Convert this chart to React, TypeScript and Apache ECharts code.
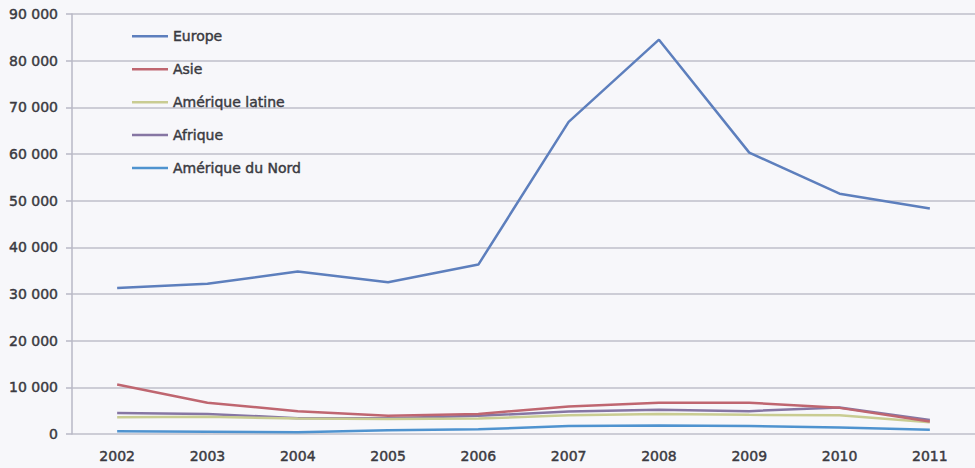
import React, { useEffect, useRef } from "react";
import * as echarts from "echarts";

// Flux annuels par région d'origine, 2002–2011
const years = ["2002", "2003", "2004", "2005", "2006", "2007", "2008", "2009", "2010", "2011"];
const europe = [31300, 32200, 34800, 32500, 36300, 66900, 84500, 60300, 51500, 48300];
const asie = [10600, 6700, 4900, 3900, 4300, 5900, 6700, 6700, 5600, 2700];
const ameriqueLatine = [3600, 3700, 3300, 3200, 3300, 4000, 4300, 4100, 4000, 2500];
const afrique = [4500, 4300, 3400, 3400, 3900, 4800, 5200, 4900, 5700, 3000];
const ameriqueNord = [600, 500, 400, 800, 1000, 1700, 1800, 1700, 1400, 900];

const seriesNames = ["Europe", "Asie", "Amérique latine", "Afrique", "Amérique du Nord"];
const seriesData = [europe, asie, ameriqueLatine, afrique, ameriqueNord];
const seriesColors = ["#5d7fbd", "#bf6670", "#c9cc92", "#8676a3", "#4f93cf"];

const FONT = "'DejaVu Sans', sans-serif";
const TEXT_COLOR = "#3a3a41";

// slightly heavier glyphs than the plain book weight
const textWeight = { textBorderColor: TEXT_COLOR, textBorderWidth: 0.45 };

const formatThousands = (v: number) =>
  String(v).replace(/\B(?=(\d{3})+(?!\d))/g, " ");

export default function App() {
  const ref = useRef<HTMLDivElement>(null);

  useEffect(() => {
    if (!ref.current) return;
    const chart = echarts.init(ref.current, undefined, { renderer: "svg" });
    chart.setOption({
      animation: false,
      backgroundColor: "#f7f7fa",
      textStyle: { fontFamily: FONT },
      grid: { left: 72, right: -9, top: 14, bottom: 34 },
      legend: {
        orient: "vertical",
        left: 127,
        top: 24,
        icon: "rect",
        itemWidth: 36,
        itemHeight: 2.5,
        itemGap: 18.5,
        data: seriesNames,
        textStyle: {
          fontFamily: FONT,
          fontSize: 14,
          color: TEXT_COLOR,
          lineHeight: 14,
          height: 14,
          ...textWeight,
        },
      },
      xAxis: {
        type: "category",
        data: years,
        boundaryGap: true,
        axisLine: { show: false },
        axisTick: { show: false },
        axisLabel: {
          fontFamily: FONT,
          fontSize: 14,
          color: TEXT_COLOR,
          margin: 15,
          ...textWeight,
        },
        splitLine: { show: false },
      },
      yAxis: {
        type: "value",
        min: 0,
        max: 90000,
        interval: 10000,
        axisLine: { show: true, lineStyle: { color: "#b9b9c6", width: 1.5 } },
        axisTick: { show: true, inside: false, length: 6, lineStyle: { color: "#b9b9c6", width: 1.5 } },
        axisLabel: {
          fontFamily: FONT,
          fontSize: 14,
          color: TEXT_COLOR,
          margin: 14,
          formatter: (v: number) => formatThousands(v),
          ...textWeight,
        },
        splitLine: { show: true, lineStyle: { color: "#bfbfca", width: 1.5 } },
      },
      series: seriesNames.map((name, i) => ({
        name,
        type: "line",
        data: seriesData[i],
        symbol: "none",
        smooth: false,
        lineStyle: { color: seriesColors[i], width: 2.5 },
        itemStyle: { color: seriesColors[i] },
        z: 10 - i,
      })),
    });
    return () => chart.dispose();
  }, []);

  return (
    <div
      ref={ref}
      style={{ position: "absolute", left: 0, top: 0, width: 975, height: 468 }}
    />
  );
}
